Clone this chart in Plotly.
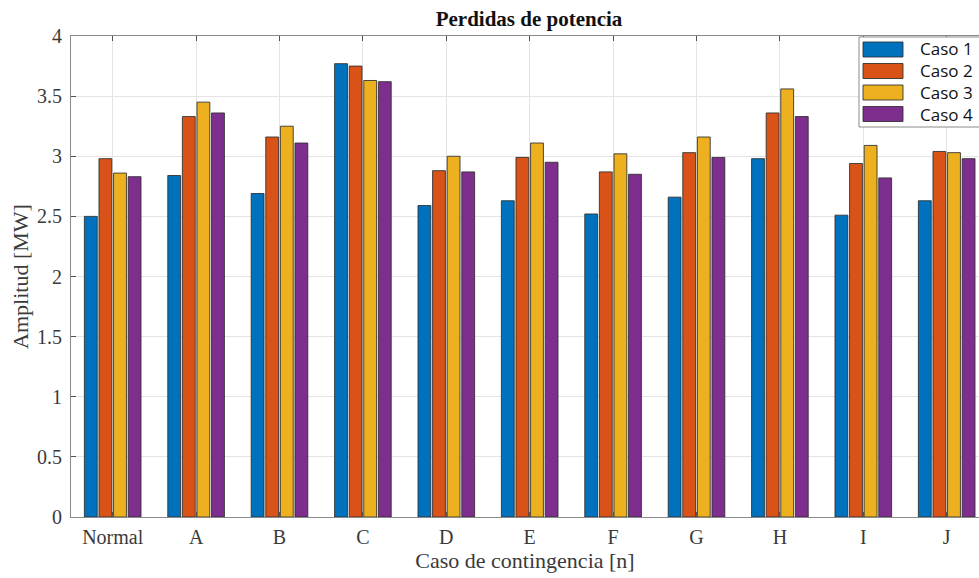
import plotly.graph_objects as go

categories = ["Normal", "A", "B", "C", "D", "E", "F", "G", "H", "I", "J"]
series_names = ["Caso 1", "Caso 2", "Caso 3", "Caso 4"]
caso1 = [2.50, 2.84, 2.69, 3.77, 2.59, 2.63, 2.52, 2.66, 2.98, 2.51, 2.63]
caso2 = [2.98, 3.33, 3.16, 3.75, 2.88, 2.99, 2.87, 3.03, 3.36, 2.94, 3.04]
caso3 = [2.86, 3.45, 3.25, 3.63, 3.00, 3.11, 3.02, 3.16, 3.56, 3.09, 3.03]
caso4 = [2.83, 3.36, 3.11, 3.62, 2.87, 2.95, 2.85, 2.99, 3.33, 2.82, 2.98]
series_values = [caso1, caso2, caso3, caso4]
colors = ["#0072BD", "#D95319", "#EDB120", "#7E2F8E"]

W, H = 979, 578
L, R, T, B = 71, 0, 36, 61
PW = W - L - R
PH = H - T - B

def px_x(p):
    return (p - L) / PW

def px_y(p):
    return (H - B - p) / PH

fig = go.Figure()
for name, vals, col in zip(series_names, series_values, colors):
    fig.add_trace(go.Bar(
        x=categories, y=vals, name=name,
        marker=dict(color=col, line=dict(color="rgba(45,45,45,0.85)", width=1)),
        showlegend=False,
    ))

serif = "Liberation Serif, Times New Roman, serif"
axis_col = "#8a8a8a"
text_col = "#3a3a3a"

cat_spacing = 83.4
x_end = -0.5 + PW / cat_spacing

fig.update_layout(
    width=W, height=H,
    margin=dict(l=L, r=R, t=T, b=B),
    paper_bgcolor="white", plot_bgcolor="white",
    barmode="group", bargap=0.30, bargroupgap=0.12,
    title=dict(text="<b>Perdidas de potencia</b>", x=px_x(529), xref="paper", xanchor="center",
               y=1 - 19 / H, yref="container", yanchor="middle",
               font=dict(family=serif, size=21, color="#111111")),
    xaxis=dict(
        type="category", range=[-0.5, x_end],
        showline=True, linecolor=axis_col, linewidth=1, mirror="ticks",
        ticks="inside", ticklen=5, tickcolor="#555555",
        showgrid=True, gridcolor="#e4e4e4", gridwidth=1,
        tickfont=dict(family=serif, size=20, color=text_col),
        ticklabelstandoff=2,
        title=dict(text="Caso de contingencia [n]", standoff=3,
                   font=dict(family=serif, size=22, color=text_col)),
    ),
    yaxis=dict(
        range=[0, 4], dtick=0.5, tick0=0,
        showline=True, linecolor=axis_col, linewidth=1, mirror=False,
        ticks="inside", ticklen=5, tickcolor="#555555",
        showgrid=True, gridcolor="#e4e4e4", gridwidth=1, zeroline=False,
        tickfont=dict(family=serif, size=20, color=text_col),
        ticklabelstandoff=4,
        title=dict(text="Amplitud [MW]", standoff=2,
                   font=dict(family=serif, size=22, color=text_col)),
    ),
    showlegend=False,
)

# legend box (cropped at right edge like the reference)
shapes = [dict(type="rect", xref="paper", yref="paper",
               x0=px_x(859), x1=px_x(1010), y0=px_y(127), y1=px_y(37),
               fillcolor="white", line=dict(color="#8a8a8a", width=1), layer="above")]
row_centers = [49.5, 71, 92.5, 114]
for col, yc in zip(colors, row_centers):
    shapes.append(dict(type="rect", xref="paper", yref="paper",
                       x0=px_x(863), x1=px_x(903), y0=px_y(yc + 7.5), y1=px_y(yc - 7.5),
                       fillcolor=col, line=dict(color="rgba(45,45,45,0.85)", width=1), layer="above"))
legend_text = "<br>".join(series_names)
annotations = [dict(text=legend_text, xref="paper", yref="paper", x=px_x(918),
                    y=px_y((row_centers[0] + row_centers[-1]) / 2),
                    xanchor="left", yanchor="middle", align="left", showarrow=False,
                    font=dict(family="Open Sans, Noto Sans, sans-serif", size=17, color="#111111"))]
fig.update_layout(shapes=shapes, annotations=annotations)

fig.write_html("out.html", config={"displayModeBar": False},
               post_script="document.body.style.margin='0px';")
